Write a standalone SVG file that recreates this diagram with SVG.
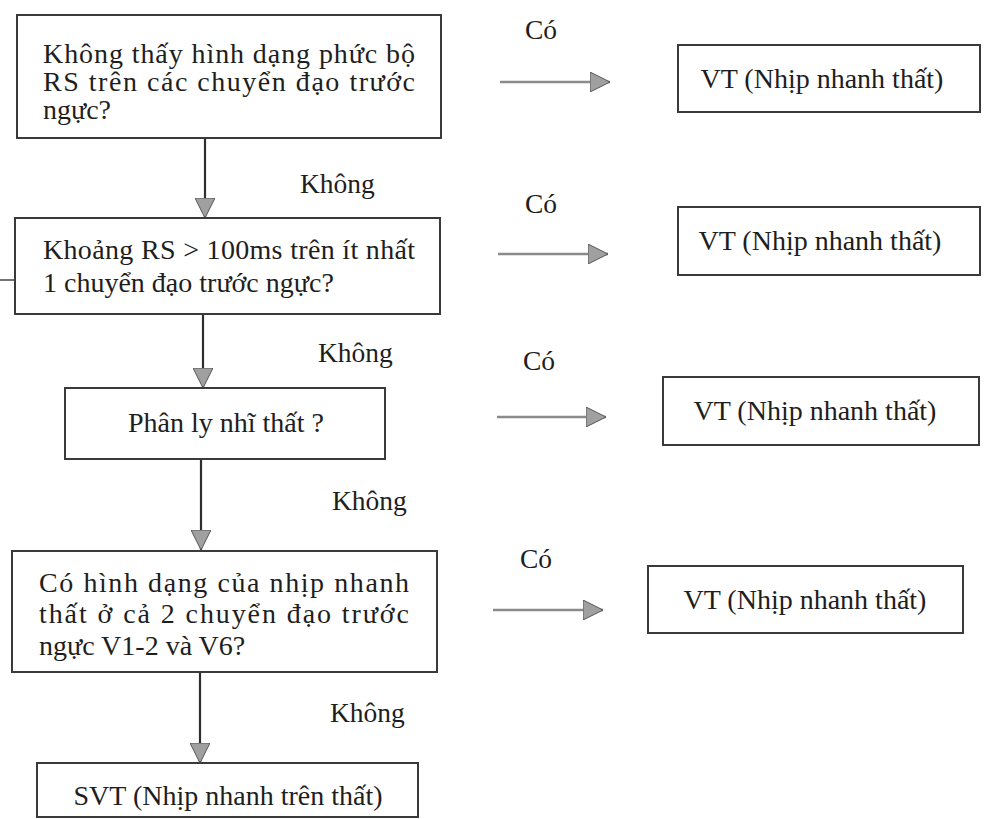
<svg xmlns="http://www.w3.org/2000/svg" width="985" height="819" viewBox="0 0 985 819">
<style>
.box{fill:#fff;stroke:#3a3a3a;stroke-width:2}
.t{font-family:"Liberation Serif","DejaVu Serif",serif;font-size:28px;fill:#1e1e1e}
.lbl{font-family:"Liberation Serif","DejaVu Serif",serif;font-size:27.5px;fill:#1e1e1e}
.v{stroke:#2e2e2e;stroke-width:2.2;fill:none}
.h{stroke:#8a8a8a;stroke-width:2.5;fill:none}
</style>
<defs>
<marker id="ah" markerUnits="userSpaceOnUse" markerWidth="20" markerHeight="20" viewBox="0 0 20 20" refX="20" refY="10" orient="auto">
<path d="M0,0 L20,10 L0,20 z" fill="#a0a0a0" stroke="#555" stroke-width="1"/>
</marker>
</defs>
<rect width="985" height="819" fill="#fff"/>

<g id="connectors">
<line class="v" x1="205" y1="138" x2="205" y2="218" marker-end="url(#ah)"/>
<line class="v" x1="203" y1="314" x2="203" y2="388" marker-end="url(#ah)"/>
<line class="v" x1="201" y1="459" x2="201" y2="550" marker-end="url(#ah)"/>
<line class="v" x1="200" y1="672" x2="200" y2="763" marker-end="url(#ah)"/>
<line class="h" x1="500" y1="82" x2="610" y2="82" marker-end="url(#ah)"/>
<line class="h" x1="498" y1="254" x2="608" y2="254" marker-end="url(#ah)"/>
<line class="h" x1="497" y1="417" x2="606" y2="417" marker-end="url(#ah)"/>
<line class="h" x1="493" y1="610" x2="603" y2="610" marker-end="url(#ah)"/>
<line x1="0" y1="280" x2="15" y2="280" stroke="#444" stroke-width="1.5"/>
<text class="lbl" x="300" y="193">Không</text>
<text class="lbl" x="318" y="362">Không</text>
<text class="lbl" x="332" y="510">Không</text>
<text class="lbl" x="330" y="722">Không</text>
<text class="lbl" x="525" y="39">Có</text>
<text class="lbl" x="525" y="213">Có</text>
<text class="lbl" x="523" y="370">Có</text>
<text class="lbl" x="520" y="568">Có</text>
</g>

<g id="q1">
<rect class="box" x="17" y="15" width="424" height="123"/>
<text class="t" x="43" y="63" textLength="372" lengthAdjust="spacing">Không thấy hình dạng phức bộ</text>
<text class="t" x="43" y="91" textLength="372" lengthAdjust="spacing">RS trên các chuyển đạo trước</text>
<text class="t" x="43" y="119">ngực?</text>
</g>

<g id="q2">
<rect class="box" x="15" y="218" width="425" height="96"/>
<text class="t" x="43" y="259" textLength="372" lengthAdjust="spacing">Khoảng RS &gt; 100ms trên ít nhất</text>
<text class="t" x="43" y="292">1 chuyển đạo trước ngực?</text>
</g>

<g id="q3">
<rect class="box" x="65" y="388" width="320" height="71"/>
<text class="t" x="226" y="432" text-anchor="middle">Phân ly nhĩ thất ?</text>
</g>

<g id="q4">
<rect class="box" x="12" y="551" width="425" height="121"/>
<text class="t" x="39" y="592" textLength="370" lengthAdjust="spacing">Có hình dạng của nhịp nhanh</text>
<text class="t" x="39" y="623" textLength="370" lengthAdjust="spacing">thất ở cả 2 chuyển đạo trước</text>
<text class="t" x="39" y="655">ngực V1-2 và V6?</text>
</g>

<g id="svt">
<rect class="box" x="37" y="763" width="381" height="54"/>
<text class="t" x="228" y="805" text-anchor="middle">SVT (Nhịp nhanh trên thất)</text>
</g>

<g id="vt1">
<rect class="box" x="678" y="45" width="302" height="67"/>
<text class="t" x="822" y="88" text-anchor="middle">VT (Nhịp nhanh thất)</text>
</g>
<g id="vt2">
<rect class="box" x="678" y="207" width="302" height="68"/>
<text class="t" x="820" y="250" text-anchor="middle">VT (Nhịp nhanh thất)</text>
</g>
<g id="vt3">
<rect class="box" x="663" y="377" width="316" height="68"/>
<text class="t" x="815" y="420" text-anchor="middle">VT (Nhịp nhanh thất)</text>
</g>
<g id="vt4">
<rect class="box" x="648" y="566" width="315" height="67"/>
<text class="t" x="805" y="609" text-anchor="middle">VT (Nhịp nhanh thất)</text>
</g>
</svg>
